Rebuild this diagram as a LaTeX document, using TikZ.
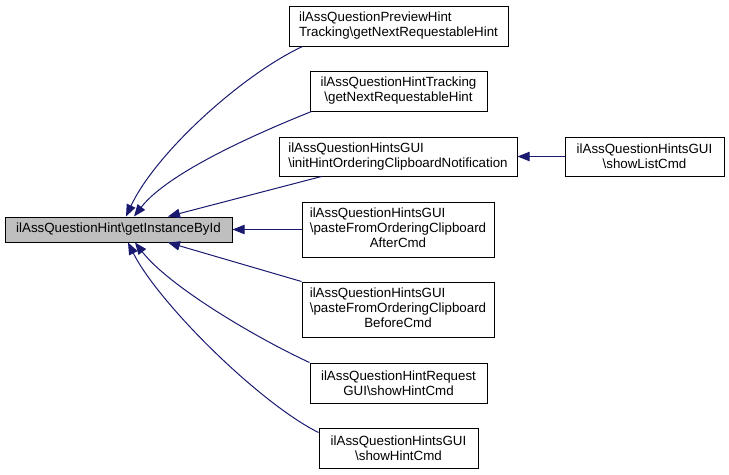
\documentclass[tikz,border=0pt]{standalone}
\usepackage{fontspec}
\setmainfont{Liberation Sans}
\usetikzlibrary{arrows.meta}
\definecolor{edgecol}{HTML}{191970}
\definecolor{mainfill}{HTML}{BFBFBF}
\newcommand\ctrline[1]{\multicolumn{1}{@{}c@{}}{#1}}
\newcommand\bs{\textbackslash{}}
\tikzset{
  box/.style={draw=black, line width=0.75pt, inner sep=0pt, text=black,
    font=\fontsize{10}{11.25}\selectfont, align=center},
  edge/.style={draw=edgecol, line width=0.75pt,
    -{Triangle[length=9pt,width=7pt]}, color=edgecol},
}
\begin{document}
\begin{tikzpicture}[x=0.75pt,y=-0.75pt]
\useasboundingbox (0,0) rectangle (729,475);
\node[box, fill=mainfill, minimum width=227*0.75pt, minimum height=25*0.75pt] (main) at (118.5,229.5) {ilAssQuestionHint\bs getInstanceById};
\node[box, minimum width=219*0.75pt, minimum height=40*0.75pt] (b1) at (398.5,26) {\begin{tabular}{@{}l@{}}ilAssQuestionPreviewHint\\\ctrline{Tracking\bs getNextRequestableHint}\end{tabular}};
\node[box, minimum width=177*0.75pt, minimum height=40*0.75pt] (b2) at (398.5,91) {ilAssQuestionHintTracking\\\bs getNextRequestableHint};
\node[box, minimum width=238*0.75pt, minimum height=39*0.75pt] (b3) at (398,156.5) {\begin{tabular}{@{}l@{}}ilAssQuestionHintsGUI\\\ctrline{\bs initHintOrderingClipboardNotification}\end{tabular}};
\node[box, minimum width=159*0.75pt, minimum height=39*0.75pt] (b8) at (644.5,156.5) {ilAssQuestionHintsGUI\\\bs showListCmd};
\node[box, minimum width=192*0.75pt, minimum height=55*0.75pt] (b4) at (398,229.5) {\begin{tabular}{@{}l@{}}ilAssQuestionHintsGUI\\\bs pasteFromOrderingClipboard\\\ctrline{AfterCmd}\end{tabular}};
\node[box, minimum width=192*0.75pt, minimum height=55*0.75pt] (b5) at (398,309.5) {\begin{tabular}{@{}l@{}}ilAssQuestionHintsGUI\\\bs pasteFromOrderingClipboard\\\ctrline{BeforeCmd}\end{tabular}};
\node[box, minimum width=177*0.75pt, minimum height=40*0.75pt] (b6) at (398.5,383) {ilAssQuestionHintRequest\\GUI\bs showHintCmd};
\node[box, minimum width=159*0.75pt, minimum height=40*0.75pt] (b7) at (398.5,448) {ilAssQuestionHintsGUI\\\bs showHintCmd};
% edges
\draw[edge] ([xshift=14*0.75pt]b1.south west) .. controls +(-60,28) and +(30,-64) .. ([xshift=7.5*0.75pt]main.north);
\draw[edge] ([xshift=2*0.75pt]b2.south west) .. controls +(-50,20) and +(35,-45) .. ([xshift=15.5*0.75pt]main.north);
\draw[edge] ([xshift=43*0.75pt]b3.south west) -- ([xshift=49.5*0.75pt]main.north);
\draw[edge] (b4.west) -- (main.east);
\draw[edge] (b5.north west) -- ([xshift=49.5*0.75pt]main.south);
\draw[edge] (b6.north west) .. controls +(-50,-23) and +(35,45) .. ([xshift=16.5*0.75pt]main.south);
\draw[edge] ([yshift=-5*0.75pt]b7.north west) .. controls +(-60,-30) and +(30,60) .. ([xshift=9.5*0.75pt]main.south);
\draw[edge] (b8.west) -- (b3.east);
\end{tikzpicture}
\end{document}
